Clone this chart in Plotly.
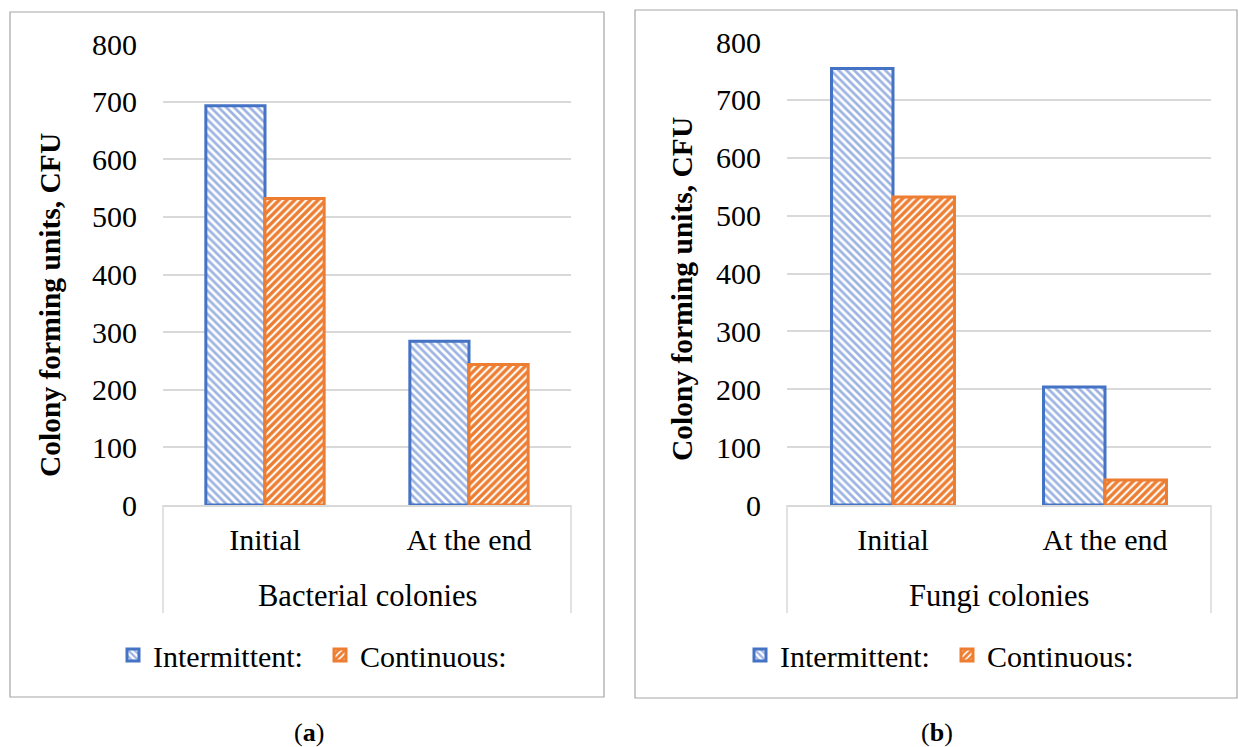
import plotly.graph_objects as go

W, H = 1239, 747

categories = ["Initial", "At the end"]
bact_intermittent = [693, 284]
bact_continuous = [532, 244]
fungi_intermittent = [754, 204]
fungi_continuous = [532, 43]
y_ticks = [0, 100, 200, 300, 400, 500, 600, 700, 800]
series_names = ["Intermittent:", "Continuous:"]
group_labels = ["Bacterial colonies", "Fungi colonies"]
y_title = "Colony forming units, CFU"
panel_labels = ["(<b>a</b>)", "(<b>b</b>)"]

FONT = "Liberation Serif, Times New Roman, serif"
BLUE = "#4472C4"
BLUE_LIGHT = "#9DB4E2"
ORANGE = "#ED7D31"
GRID = "#D9D9D9"


def px(x):
    return x / W


def py(y):
    return 1 - y / H


def bar(name, vals, xa, ya, legend, blue):
    return go.Bar(
        name=name, x=categories, y=vals, xaxis=xa, yaxis=ya, legend=legend,
        marker=dict(
            color="white",
            line=dict(color=BLUE if blue else ORANGE, width=3),
            pattern=dict(
                shape="\\" if blue else "/",
                fgcolor=BLUE_LIGHT if blue else ORANGE,
                bgcolor="white",
                size=5.5,
                solidity=0.5 if blue else 0.62,
                fillmode="replace",
            ),
        ),
    )


fig = go.Figure()
fig.add_trace(bar(series_names[0], bact_intermittent, "x", "y", "legend", True))
fig.add_trace(bar(series_names[1], bact_continuous, "x", "y", "legend", False))
fig.add_trace(bar(series_names[0], fungi_intermittent, "x2", "y2", "legend2", True))
fig.add_trace(bar(series_names[1], fungi_continuous, "x2", "y2", "legend2", False))

tickfont = dict(family=FONT, size=30, color="black")

panels = [
    dict(x0=163, x1=571, y0=505, y1=44),
    dict(x0=787, x1=1211, y0=505, y1=42),
]

axes = {}
for i, p in enumerate(panels):
    sfx = "" if i == 0 else str(i + 1)
    axes["xaxis" + sfx] = dict(
        domain=[px(p["x0"]), px(p["x1"])],
        anchor="y" + sfx, automargin=False,
        showline=True, linecolor=GRID, linewidth=1.5,
        showgrid=False, ticks="", tickfont=tickfont,
        ticklabelstandoff=7, fixedrange=True,
    )
    axes["yaxis" + sfx] = dict(
        domain=[py(p["y0"]), py(p["y1"])],
        anchor="x" + sfx, automargin=False,
        range=[0, 800], tickvals=y_ticks,
        showgrid=True, gridcolor=GRID, gridwidth=1.5,
        zeroline=False, showline=False, ticks="",
        tickfont=tickfont, ticklabelstandoff=25, fixedrange=True,
    )

shapes = []
# panel borders
for (x0, y0, x1, y1) in [(10, 12, 604, 697), (635, 10, 1237, 698)]:
    shapes.append(dict(type="rect", xref="paper", yref="paper",
                       x0=px(x0), x1=px(x1), y0=py(y0), y1=py(y1),
                       line=dict(color="#A6A6A6", width=1.2), layer="below"))
# category box sides
for p in panels:
    for xx in (p["x0"], p["x1"]):
        shapes.append(dict(type="line", xref="paper", yref="paper",
                           x0=px(xx), x1=px(xx), y0=py(505), y1=py(613),
                           line=dict(color=GRID, width=1.5)))

annotations = []
ytitle_pos = [(50, 305), (682, 289)]
for (xx, yy) in ytitle_pos:
    annotations.append(dict(text="<b>" + y_title + "</b>", textangle=-90,
                            x=px(xx), y=py(yy), xref="paper", yref="paper",
                            showarrow=False, xanchor="center", yanchor="middle",
                            font=dict(family=FONT, size=29.5, color="black")))
for i, p in enumerate(panels):
    annotations.append(dict(text=group_labels[i],
                            x=px((p["x0"] + p["x1"]) / 2), y=py(596),
                            xref="paper", yref="paper", showarrow=False,
                            xanchor="center", yanchor="middle",
                            font=dict(family=FONT, size=30.5, color="black")))
for i, xx in enumerate([309, 937]):
    annotations.append(dict(text=panel_labels[i], x=px(xx), y=py(732),
                            xref="paper", yref="paper", showarrow=False,
                            xanchor="center", yanchor="middle",
                            font=dict(family=FONT, size=26, color="black")))

legfont = dict(family=FONT, size=30, color="black")
fig.update_layout(
    width=W, height=H,
    margin=dict(l=0, r=0, t=0, b=0),
    paper_bgcolor="white", plot_bgcolor="white",
    barmode="group", bargap=0.42, bargroupgap=0,
    shapes=shapes, annotations=annotations,
    legend=dict(orientation="h", x=px(113), y=py(655), xanchor="left", yanchor="middle",
                font=legfont, bgcolor="rgba(0,0,0,0)", itemwidth=30,
                entrywidth=162, traceorder="normal"),
    legend2=dict(orientation="h", x=px(740), y=py(655), xanchor="left", yanchor="middle",
                 font=legfont, bgcolor="rgba(0,0,0,0)", itemwidth=30,
                 entrywidth=162, traceorder="normal"),
    **axes,
)

fig.write_html("out.html", config={"displayModeBar": False},
               post_script="document.body.style.margin='0px';")
